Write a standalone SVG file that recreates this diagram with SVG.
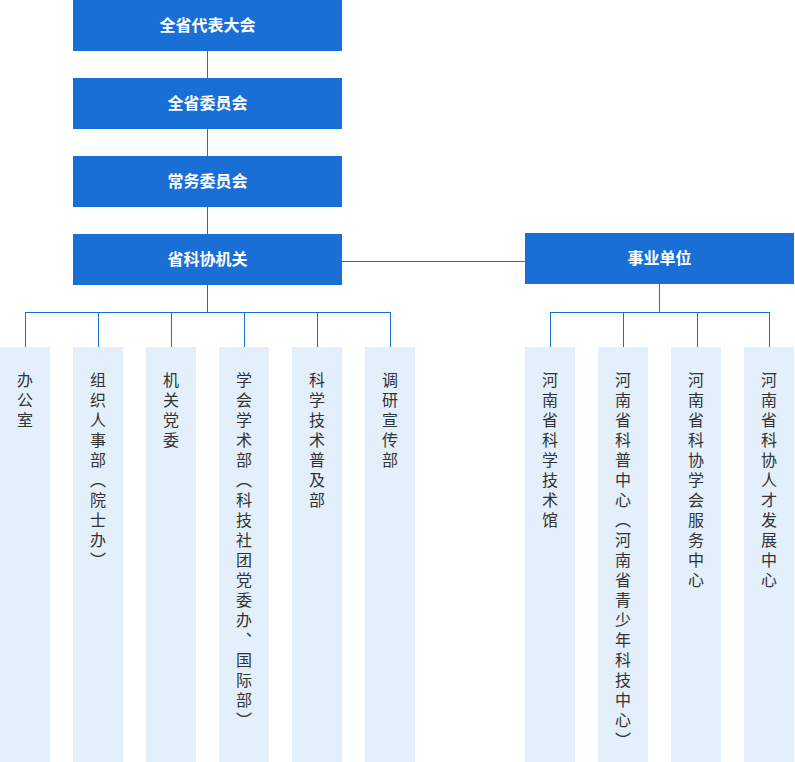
<svg xmlns="http://www.w3.org/2000/svg" width="795" height="762" viewBox="0 0 795 762">
<style>
.box{fill:#1a6fd6}
.bt{fill:#fff;font-family:"Noto Sans CJK SC",sans-serif;font-size:16px;font-weight:bold;text-anchor:middle}
.col{fill:#e3f0fc}
.vt{fill:#333;font-family:"Noto Sans CJK SC",sans-serif;font-size:16px;writing-mode:vertical-rl;letter-spacing:4px}
.ln{stroke:#1a6fd6;stroke-width:1;fill:none}
</style>
<rect width="795" height="762" fill="#fff"/>
<g id="connectors">
<path class="ln" d="M207.5 51V78M207.5 129V156M207.5 207V234M342 261.5H525M207.5 285V312.5M25.5 312.5H390.5M25.5 312V347M98.5 312V347M171.5 312V347M244.5 312V347M317.5 312V347M390.5 312V347M659.5 284V312.5M550.5 312.5H769.5M550.5 312V347M623.5 312V347M697.5 312V347M769.5 312V347"/>
</g>
<g id="n1"><rect class="box" x="73" y="0" width="269" height="51"/><text class="bt" x="207.5" y="31">全省代表大会</text></g>
<g id="n2"><rect class="box" x="73" y="78" width="269" height="51"/><text class="bt" x="207.5" y="109">全省委员会</text></g>
<g id="n3"><rect class="box" x="73" y="156" width="269" height="51"/><text class="bt" x="207.5" y="187">常务委员会</text></g>
<g id="n4"><rect class="box" x="73" y="234" width="269" height="51"/><text class="bt" x="207.5" y="265">省科协机关</text></g>
<g id="n5"><rect class="box" x="525" y="233" width="269" height="51"/><text class="bt" x="659.5" y="264">事业单位</text></g>
<g id="c1"><rect class="col" x="0" y="347" width="50" height="415"/><text class="vt" x="25" y="372">办公室</text></g>
<g id="c2"><rect class="col" x="73" y="347" width="50" height="415"/><text class="vt" x="98" y="372">组织人事部（院士办）</text></g>
<g id="c3"><rect class="col" x="146" y="347" width="50" height="415"/><text class="vt" x="171" y="372">机关党委</text></g>
<g id="c4"><rect class="col" x="219" y="347" width="50" height="415"/><text class="vt" x="244" y="372">学会学术部（科技社团党委办、国际部）</text></g>
<g id="c5"><rect class="col" x="292" y="347" width="50" height="415"/><text class="vt" x="317" y="372">科学技术普及部</text></g>
<g id="c6"><rect class="col" x="365" y="347" width="50" height="415"/><text class="vt" x="390" y="372">调研宣传部</text></g>
<g id="c7"><rect class="col" x="525" y="347" width="50" height="415"/><text class="vt" x="550" y="372">河南省科学技术馆</text></g>
<g id="c8"><rect class="col" x="598" y="347" width="50" height="415"/><text class="vt" x="623" y="372">河南省科普中心（河南省青少年科技中心）</text></g>
<g id="c9"><rect class="col" x="671" y="347" width="50" height="415"/><text class="vt" x="696" y="372">河南省科协学会服务中心</text></g>
<g id="c10"><rect class="col" x="744" y="347" width="50" height="415"/><text class="vt" x="769" y="372">河南省科协人才发展中心</text></g>
</svg>
